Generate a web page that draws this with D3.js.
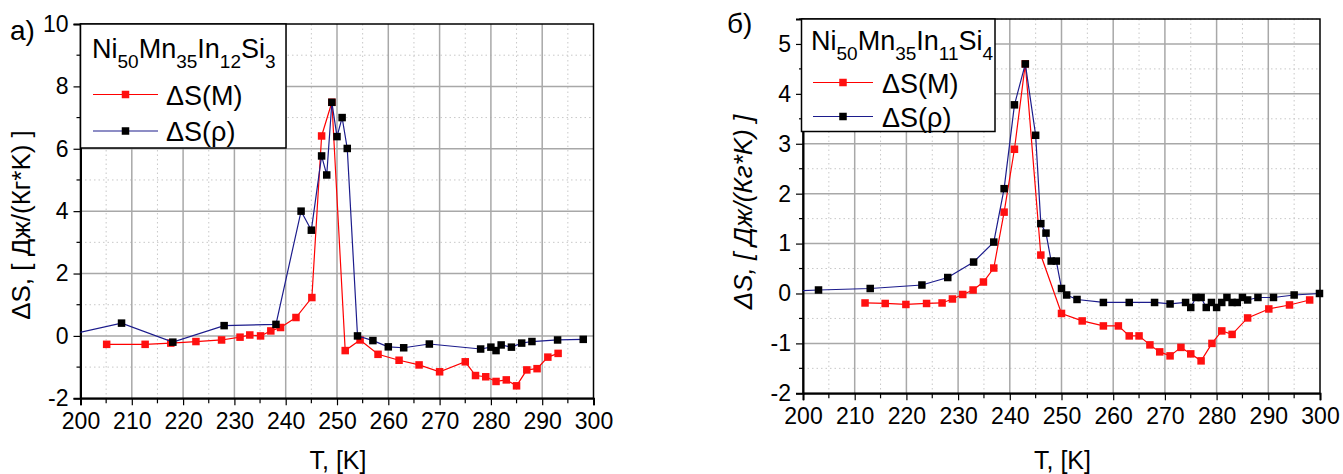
<!DOCTYPE html>
<html>
<head>
<meta charset="utf-8">
<script src="https://cdn.jsdelivr.net/npm/d3@7"></script>
<style>
  html, body { margin: 0; padding: 0; background: #fff; }
  svg { display: block; font-family: "Liberation Sans", Arial, sans-serif; }
</style>
</head>
<body>
<svg id="chart" width="1343" height="474"></svg>
<script>
// ---- Panel a) Ni50Mn35In12Si3 ----
const tempM_a = [205.1, 212.6, 217.6, 222.5, 227.5, 231.1, 233.0, 235.1, 237.1, 239.0, 242.0, 245.1, 247.0, 249.0, 251.6, 254.5, 258.0, 262.1, 266.0, 270.0, 275.0, 277.0, 279.0, 281.0, 283.0, 285.0, 287.0, 289.0, 291.1, 293.1];
const dsM_a   = [-0.27, -0.27, -0.23, -0.18, -0.13, -0.04, 0.03, 0.0, 0.16, 0.27, 0.59, 1.23, 6.41, 7.49, -0.47, -0.13, -0.59, -0.78, -0.93, -1.15, -0.83, -1.27, -1.31, -1.46, -1.41, -1.60, -1.09, -1.05, -0.68, -0.56];
const tempR_a = [196.0, 208.0, 218.0, 228.0, 238.1, 243.0, 245.0, 247.0, 248.0, 249.0, 250.0, 251.0, 252.0, 254.0, 257.0, 260.0, 263.0, 268.0, 278.0, 280.0, 281.0, 282.0, 284.0, 286.0, 288.0, 293.0, 298.0];
const dsR_a   = [-0.03, 0.41, -0.20, 0.33, 0.37, 4.00, 3.39, 5.77, 5.16, 7.49, 6.39, 7.00, 6.01, 0.00, -0.15, -0.35, -0.38, -0.26, -0.42, -0.36, -0.47, -0.29, -0.36, -0.23, -0.18, -0.13, -0.11];

// ---- Panel б) Ni50Mn35In11Si4 ----
const tempM_b = [212.0, 215.9, 219.9, 223.9, 226.9, 228.9, 230.9, 232.9, 234.9, 236.9, 238.9, 240.9, 243.0, 246.0, 250.0, 254.0, 258.1, 261.0, 263.1, 265.0, 267.1, 269.0, 271.0, 273.1, 275.0, 277.0, 279.1, 281.0, 283.0, 286.0, 290.1, 294.1, 298.0];
const dsM_b   = [-0.19, -0.20, -0.22, -0.20, -0.19, -0.11, -0.02, 0.07, 0.23, 0.51, 1.63, 2.89, 4.60, 0.77, -0.40, -0.55, -0.65, -0.65, -0.85, -0.85, -1.03, -1.17, -1.25, -1.08, -1.21, -1.35, -1.00, -0.75, -0.82, -0.49, -0.31, -0.23, -0.13];
const tempR_b = [195.0, 203.0, 213.0, 223.0, 228.0, 233.0, 236.9, 238.9, 240.9, 243.0, 245.0, 246.0, 247.0, 248.0, 249.0, 250.0, 251.0, 253.0, 258.1, 263.1, 268.0, 271.0, 274.0, 275.0, 276.0, 277.0, 278.0, 279.0, 280.0, 281.0, 282.0, 283.0, 284.0, 285.0, 286.0, 288.0, 291.0, 295.0, 299.9];
const dsR_b   = [0.04, 0.07, 0.10, 0.17, 0.32, 0.63, 1.03, 2.10, 3.78, 4.60, 3.17, 1.40, 1.21, 0.65, 0.65, 0.10, -0.03, -0.12, -0.18, -0.18, -0.18, -0.21, -0.18, -0.28, -0.08, -0.08, -0.28, -0.18, -0.28, -0.18, -0.08, -0.18, -0.18, -0.08, -0.13, -0.08, -0.08, -0.03, 0.00];

// ---- shared axis settings ----
const xTicks = [200, 210, 220, 230, 240, 250, 260, 270, 280, 290, 300];
const yTicks_a = [-2, 0, 2, 4, 6, 8, 10];
const yTicks_b = [-2, -1, 0, 1, 2, 3, 4, 5];
const xTitle = "T, [K]";
const yTitle = "\u0394S, [ \u0414\u0436/(\u041A\u0433*K) ]";
const seriesNames = ["\u0394S(M)", "\u0394S(\u03C1)"];

const FONT = "'Liberation Sans', Arial, sans-serif";
const svg = d3.select("#chart");

function drawPanel(o) {
  const x = d3.scaleLinear().domain([200, 300]).range([o.left, o.right]);
  const y = d3.scaleLinear().domain(o.yDomain).range([o.bottom, o.top]);
  const g = svg.append("g");

  const clipId = "clip-" + o.id;
  svg.append("clipPath").attr("id", clipId)
    .append("rect").attr("x", o.left).attr("y", o.top)
    .attr("width", o.right - o.left).attr("height", o.bottom - o.top);

  // minor grid (dotted)
  const xMinor = d3.range(205, 300, 10);
  const yMinor = d3.range(o.yDomain[0] + o.yStep / 2, o.yDomain[1] + 1e-9, o.yStep);
  g.selectAll(".xmin").data(xMinor).join("line")
    .attr("x1", d => x(d)).attr("x2", d => x(d)).attr("y1", o.top).attr("y2", o.bottom)
    .attr("stroke", "#c8c8c8").attr("stroke-width", 1).attr("stroke-dasharray", "1.5,3");
  g.selectAll(".ymin").data(yMinor).join("line")
    .attr("x1", o.left).attr("x2", o.right).attr("y1", d => y(d)).attr("y2", d => y(d))
    .attr("stroke", "#c8c8c8").attr("stroke-width", 1).attr("stroke-dasharray", "1.5,3");
  // major grid
  g.selectAll(".xmaj").data(xTicks.slice(1, -1)).join("line")
    .attr("x1", d => x(d)).attr("x2", d => x(d)).attr("y1", o.top).attr("y2", o.bottom)
    .attr("stroke", "#a8a8a8").attr("stroke-width", 1.5);
  g.selectAll(".ymaj").data(o.yTicks.filter(v => v > o.yDomain[0] && v < o.yDomain[1])).join("line")
    .attr("x1", o.left).attr("x2", o.right).attr("y1", d => y(d)).attr("y2", d => y(d))
    .attr("stroke", "#a8a8a8").attr("stroke-width", 1.5);

  // frame
  g.append("rect").attr("x", o.left).attr("y", o.top)
    .attr("width", o.right - o.left).attr("height", o.bottom - o.top)
    .attr("fill", "none").attr("stroke", "#000").attr("stroke-width", 1.5);

  // axes
  const xAxis = d3.axisBottom(x).tickValues(xTicks).tickSize(7).tickPadding(5).tickFormat(d3.format("d"));
  const gx = g.append("g").attr("transform", `translate(0,${o.bottom})`).call(xAxis);
  gx.append("g").selectAll("line").data(xMinor).join("line")
    .attr("x1", d => x(d)).attr("x2", d => x(d)).attr("y1", 0).attr("y2", 5)
    .attr("stroke", "#000").attr("stroke-width", 1.2);
  const yAxis = d3.axisLeft(y).tickValues(o.yTicks).tickSize(7).tickPadding(5).tickFormat(d3.format("d"));
  const gy = g.append("g").attr("transform", `translate(${o.left},0)`).call(yAxis);
  gy.append("g").selectAll("line").data(yMinor).join("line")
    .attr("x1", -4).attr("x2", 0).attr("y1", d => y(d)).attr("y2", d => y(d))
    .attr("stroke", "#000").attr("stroke-width", 1.2);
  [gx, gy].forEach(a => {
    a.attr("font-family", FONT);
    a.select(".domain").attr("stroke", "#000").attr("stroke-width", 2);
    a.selectAll(".tick line").attr("stroke", "#000").attr("stroke-width", 1.2);
    a.selectAll(".tick text").attr("font-size", 23).attr("fill", "#000");
  });
  gx.selectAll(".tick text").attr("dy", "0.8em");
  // plain hyphen for negative tick labels
  gy.selectAll(".tick text").text(d => String(d));

  // series
  const line = d3.line().x(d => x(d[0])).y(d => y(d[1]));
  const series = [
    { t: o.tempM, v: o.dsM, lc: "#ff0000", mc: "#ff1010" },
    { t: o.tempR, v: o.dsR, lc: "#1c1c8c", mc: "#000000" }
  ];
  const ms = 7.5;
  series.forEach(s => {
    const pts = s.t.map((t, i) => [t, s.v[i]]);
    g.append("path").datum(pts).attr("d", line)
      .attr("clip-path", `url(#${clipId})`)
      .attr("fill", "none").attr("stroke", s.lc).attr("stroke-width", 1.2);
    g.append("g").selectAll("rect").data(pts.filter(p => p[0] >= 200 && p[0] <= 300)).join("rect")
      .attr("x", d => x(d[0]) - ms / 2).attr("y", d => y(d[1]) - ms / 2)
      .attr("width", ms).attr("height", ms).attr("fill", s.mc);
  });

  // legend
  const L = o.legend;
  g.append("rect").attr("x", L.x0).attr("y", o.top).attr("width", L.x1 - L.x0).attr("height", L.y1 - o.top)
    .attr("fill", "#fff").attr("stroke", "#000").attr("stroke-width", 1.5);
  const tt = g.append("text").attr("x", L.tx).attr("y", L.ty).attr("font-size", 27).attr("fill", "#000");
  o.formula.forEach(([el, n], i) => {
    tt.append("tspan").attr("dy", i === 0 ? 0 : -10).attr("font-size", 27).text(el);
    tt.append("tspan").attr("dy", 10).attr("font-size", 19).text(n);
  });
  [0, 1].forEach(i => {
    const yy = L.ey[i];
    g.append("line").attr("x1", L.lx0).attr("x2", L.lx1).attr("y1", yy).attr("y2", yy)
      .attr("stroke", series[i].lc).attr("stroke-width", 1.2);
    g.append("rect").attr("x", (L.lx0 + L.lx1) / 2 - ms / 2).attr("y", yy - ms / 2)
      .attr("width", ms).attr("height", ms).attr("fill", series[i].mc);
    g.append("text").attr("x", L.ex).attr("y", yy + 10).attr("font-size", 27).attr("fill", "#000")
      .text(seriesNames[i]);
  });

  // titles
  g.append("text").attr("x", (o.left + o.right) / 2 + 1).attr("y", 469).attr("text-anchor", "middle")
    .attr("font-size", 25).attr("fill", "#000").text(xTitle);
  g.append("text").attr("transform", `translate(${o.left - 51},${o.yTitleY}) rotate(-90)`)
    .attr("text-anchor", "middle").attr("font-size", 26).attr("fill", "#000")
    .attr("font-style", o.yTitleStyle).text(yTitle);
  g.append("text").attr("x", o.tagX).attr("y", o.tagY).attr("font-size", 28).attr("fill", "#000").text(o.tag);
}

drawPanel({
  id: "a", left: 80.5, right: 593.5, top: 24, bottom: 398.3,
  yDomain: [-2, 10], yStep: 2, yTicks: yTicks_a,
  tempM: tempM_a, dsM: dsM_a, tempR: tempR_a, dsR: dsR_a,
  formula: [["Ni", "50"], ["Mn", "35"], ["In", "12"], ["Si", "3"]],
  legend: { x0: 80.5, x1: 286, y1: 148, tx: 92, ty: 58, lx0: 93, lx1: 158, ex: 166, ey: [94.5, 131] },
  yTitleY: 225, yTitleStyle: "normal", tag: "a)", tagX: 10, tagY: 40
});

drawPanel({
  id: "b", left: 803, right: 1320, top: 19, bottom: 393.3,
  yDomain: [-2, 5.5], yStep: 1, yTicks: yTicks_b,
  tempM: tempM_b, dsM: dsM_b, tempR: tempR_b, dsR: dsR_b,
  formula: [["Ni", "50"], ["Mn", "35"], ["In", "11"], ["Si", "4"]],
  legend: { x0: 801.5, x1: 995, y1: 131.5, tx: 811, ty: 50, lx0: 813, lx1: 873, ex: 882, ey: [82.5, 116.5] },
  yTitleY: 212, yTitleStyle: "italic", tag: "\u0431)", tagX: 727, tagY: 33
});
</script>
</body>
</html>
